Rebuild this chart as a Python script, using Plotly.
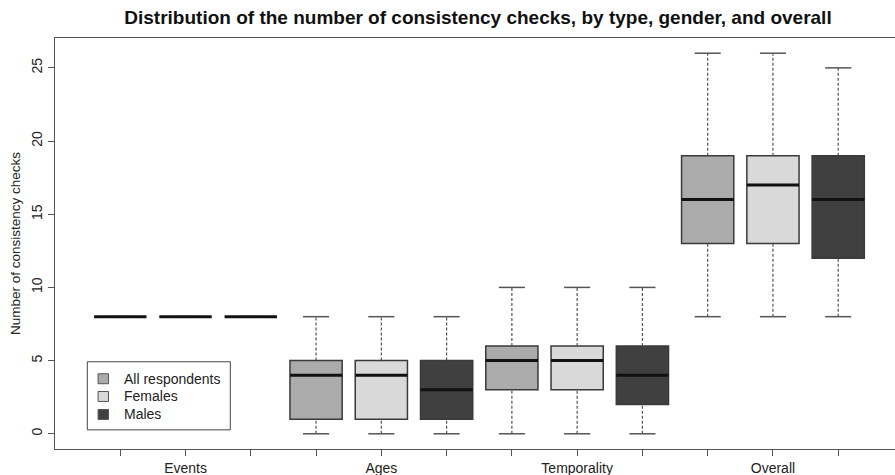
import plotly.graph_objects as go

# Consistency-check counts: five-number summaries per check type and respondent group
groups = ["Events", "Ages", "Temporality", "Overall"]
series_names = ["All respondents", "Females", "Males"]

all_min = [8, 0, 0, 8]
all_q1 = [8, 1, 3, 13]
all_med = [8, 4, 5, 16]
all_q3 = [8, 5, 6, 19]
all_max = [8, 8, 10, 26]

fem_min = [8, 0, 0, 8]
fem_q1 = [8, 1, 3, 13]
fem_med = [8, 4, 5, 17]
fem_q3 = [8, 5, 6, 19]
fem_max = [8, 8, 10, 26]

male_min = [8, 0, 0, 8]
male_q1 = [8, 1, 2, 12]
male_med = [8, 3, 4, 16]
male_q3 = [8, 5, 6, 19]
male_max = [8, 8, 10, 25]

fills = ["#ababab", "#d9d9d9", "#404040"]
summaries = [
    (all_min, all_q1, all_med, all_q3, all_max),
    (fem_min, fem_q1, fem_med, fem_q3, fem_max),
    (male_min, male_q1, male_med, male_q3, male_max),
]

BOX_W = 0.8
CAP_W = 0.4
EDGE = "#3a3a3a"
WHISK = "#555555"

fig = go.Figure()

for s, (mn, q1, med, q3, mx) in enumerate(summaries):
    pos = [g * 3 + s + 1 for g in range(len(groups))]
    # box body (no built-in whiskers; dashed ones drawn separately)
    fig.add_trace(go.Box(
        x=pos, q1=q1, median=med, q3=q3, lowerfence=q1, upperfence=q3,
        width=BOX_W, fillcolor=fills[s], line=dict(color=EDGE, width=1.5),
        whiskerwidth=0, name=series_names[s], showlegend=False, hoverinfo="skip",
    ))
    # dashed whiskers
    wx, wy = [], []
    for p, a, b, c, d in zip(pos, mn, q1, q3, mx):
        wx += [p, p, None, p, p, None]
        wy += [a, b, None, c, d, None]
    fig.add_trace(go.Scatter(x=wx, y=wy, mode="lines", showlegend=False, hoverinfo="skip",
                             line=dict(color=WHISK, width=1.2, dash="3px,2px")))
    # whisker caps
    cx, cy = [], []
    for p, a, d in zip(pos, mn, mx):
        cx += [p - CAP_W / 2, p + CAP_W / 2, None, p - CAP_W / 2, p + CAP_W / 2, None]
        cy += [a, a, None, d, d, None]
    fig.add_trace(go.Scatter(x=cx, y=cy, mode="lines", showlegend=False, hoverinfo="skip",
                             line=dict(color=WHISK, width=1.5)))
    # thick median bar
    mx_, my_ = [], []
    for p, m in zip(pos, med):
        mx_ += [p - BOX_W / 2, p + BOX_W / 2, None]
        my_ += [m, m, None]
    fig.add_trace(go.Scatter(x=mx_, y=my_, mode="lines", showlegend=False, hoverinfo="skip",
                             line=dict(color="#111111", width=3)))

# legend panel in the lower-left corner
leg_x0, leg_x1, leg_y0, leg_y1 = 0.495, 2.686, 0.27, 4.92
fig.add_shape(type="rect", x0=leg_x0, x1=leg_x1, y0=leg_y0, y1=leg_y1,
              line=dict(color="#444444", width=1), fillcolor="white", layer="above")
leg_rows = [3.76, 2.55, 1.32]
for s, yv in enumerate(leg_rows):
    fig.add_shape(type="rect", x0=0.66, x1=0.82, y0=yv - 0.34, y1=yv + 0.34,
                  line=dict(color="#555555", width=1), fillcolor=fills[s], layer="above")
    fig.add_annotation(x=1.03, y=yv, text=series_names[s], showarrow=False,
                       xanchor="left", yanchor="middle",
                       font=dict(size=14, color="#222222"))

tickvals = list(range(1, 13))
ticktext = []
for g in groups:
    ticktext += ["", g, ""]

fig.update_layout(
    width=895, height=475,
    margin=dict(l=55, r=0, t=38, b=26),
    paper_bgcolor="white", plot_bgcolor="white",
    font=dict(family="Liberation Sans, Arial, sans-serif", color="#222222"),
    boxmode="overlay",
    title=dict(text="<b>Distribution of the number of consistency checks, by type, gender, and overall</b>",
               x=478 / 895, xref="container", xanchor="center",
               y=1 - 17 / 475, yref="container", yanchor="middle",
               font=dict(size=19, color="#111111")),
    xaxis=dict(range=[0, 12.87], tickvals=tickvals, ticktext=ticktext,
               showgrid=False, zeroline=False, showline=True, mirror=True,
               linecolor="#555555", linewidth=1, ticks="outside", ticklen=6,
               tickcolor="#555555", tickfont=dict(size=14, color="#222222")),
    yaxis=dict(range=[-1.04, 27.04], tickvals=[0, 5, 10, 15, 20, 25],
               showgrid=False, zeroline=False, showline=True,
               linecolor="#555555", linewidth=1, ticks="outside", ticklen=6,
               tickcolor="#555555", tickangle=-90, tickfont=dict(size=14, color="#222222"),
               title=dict(text="Number of consistency checks", font=dict(size=13.5, color="#222222"),
                          standoff=5)),
)

fig.write_html("out.html")
